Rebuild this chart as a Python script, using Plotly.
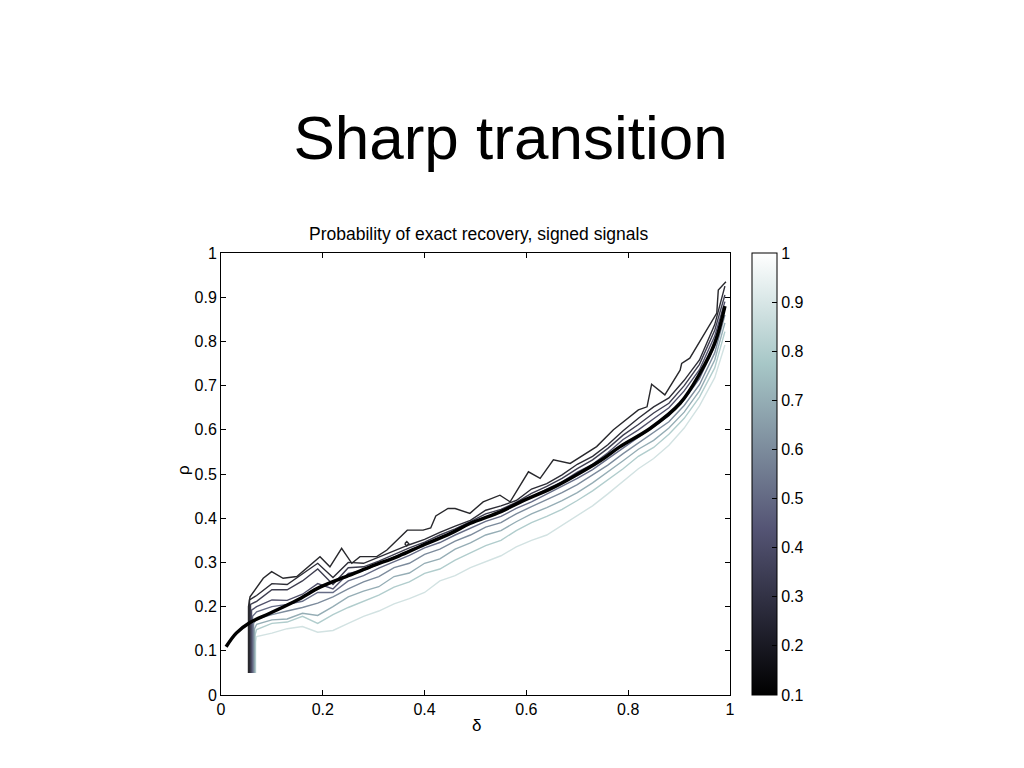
import plotly.graph_objects as go

# ---------------- data ----------------
# theoretical phase-transition curve (thick black)
curve_delta = [0.01, 0.03, 0.057, 0.096, 0.15, 0.1945, 0.25, 0.293, 0.35, 0.391, 0.45,
               0.489, 0.55, 0.587, 0.65, 0.686, 0.745, 0.784, 0.843, 0.902, 0.941, 0.97, 0.99]
curve_rho = [0.109, 0.14, 0.164, 0.185, 0.215, 0.244, 0.27, 0.29, 0.315, 0.336, 0.365,
             0.388, 0.415, 0.436, 0.468, 0.49, 0.53, 0.562, 0.603, 0.66, 0.728, 0.796, 0.88]

# contour level 0.1 (darkest, traced individually)
delta_c10 = [0.054, 0.054, 0.057, 0.083, 0.0995, 0.122, 0.149, 0.1945, 0.214, 0.237, 0.257,
             0.273, 0.306, 0.326, 0.366, 0.397, 0.412, 0.422, 0.446, 0.46, 0.489, 0.515,
             0.548, 0.568, 0.604, 0.627, 0.653, 0.686, 0.738, 0.771, 0.82, 0.837, 0.846,
             0.872, 0.902, 0.905, 0.921, 0.941, 0.974, 0.977, 0.992]
rho_c10 = [0.05, 0.2, 0.222, 0.264, 0.279, 0.264, 0.268, 0.313, 0.29, 0.332, 0.298,
           0.313, 0.313, 0.328, 0.373, 0.373, 0.378, 0.405, 0.422, 0.422, 0.411, 0.437,
           0.452, 0.437, 0.505, 0.49, 0.532, 0.524, 0.562, 0.60, 0.645, 0.652, 0.703,
           0.679, 0.735, 0.75, 0.762, 0.80, 0.864, 0.916, 0.935]
# small isolated loop of level 0.1
loop_delta = [0.361, 0.365, 0.369, 0.365, 0.361]
loop_rho = [0.342, 0.347, 0.342, 0.337, 0.342]

# shared delta grid for contour levels 0.2 ... 0.9
delta_grid = [0.07, 0.10, 0.13, 0.16, 0.19, 0.22, 0.25, 0.28, 0.31, 0.34, 0.37, 0.40,
              0.43, 0.46, 0.49, 0.52, 0.55, 0.58, 0.61, 0.64, 0.67, 0.70, 0.73, 0.76,
              0.79, 0.82, 0.85, 0.88, 0.91, 0.94, 0.97, 0.99]

levels = [0.2, 0.3, 0.4, 0.5, 0.6, 0.7, 0.8, 0.9]
left_edge_delta = [0.056, 0.058, 0.060, 0.062, 0.064, 0.066, 0.067, 0.068]
left_corner_rho = [0.215, 0.205, 0.192, 0.178, 0.162, 0.150, 0.136, 0.120]
left_bottom_rho = 0.05

rho_c20 = [0.225, 0.252, 0.250, 0.273, 0.298, 0.266, 0.300, 0.298, 0.312, 0.325, 0.340, 0.352,
           0.368, 0.382, 0.395, 0.418, 0.428, 0.440, 0.466, 0.478, 0.498, 0.522, 0.540, 0.566,
           0.598, 0.626, 0.652, 0.672, 0.712, 0.758, 0.838, 0.925]
rho_c30 = [0.212, 0.238, 0.238, 0.258, 0.285, 0.250, 0.288, 0.290, 0.303, 0.318, 0.333, 0.346,
           0.362, 0.376, 0.392, 0.410, 0.420, 0.436, 0.456, 0.472, 0.490, 0.512, 0.532, 0.558,
           0.588, 0.612, 0.638, 0.660, 0.700, 0.748, 0.825, 0.905]
rho_c40 = [0.200, 0.215, 0.214, 0.228, 0.252, 0.240, 0.275, 0.282, 0.296, 0.312, 0.326, 0.342,
           0.356, 0.370, 0.388, 0.402, 0.414, 0.432, 0.448, 0.466, 0.482, 0.504, 0.522, 0.548,
           0.578, 0.600, 0.625, 0.650, 0.688, 0.736, 0.812, 0.890]
rho_c50 = [0.188, 0.200, 0.205, 0.212, 0.232, 0.232, 0.258, 0.270, 0.287, 0.302, 0.316, 0.333,
           0.345, 0.362, 0.378, 0.393, 0.404, 0.422, 0.437, 0.455, 0.472, 0.490, 0.510, 0.534,
           0.560, 0.584, 0.606, 0.632, 0.668, 0.716, 0.790, 0.875]
rho_c60 = [0.172, 0.182, 0.190, 0.198, 0.208, 0.222, 0.240, 0.256, 0.268, 0.288, 0.298, 0.318,
           0.330, 0.348, 0.362, 0.380, 0.390, 0.410, 0.426, 0.442, 0.458, 0.476, 0.498, 0.520,
           0.546, 0.570, 0.592, 0.618, 0.655, 0.702, 0.774, 0.860]
rho_c70 = [0.160, 0.170, 0.172, 0.185, 0.180, 0.200, 0.222, 0.235, 0.245, 0.268, 0.276, 0.298,
           0.308, 0.330, 0.344, 0.362, 0.372, 0.392, 0.410, 0.424, 0.440, 0.458, 0.480, 0.504,
           0.530, 0.556, 0.576, 0.604, 0.640, 0.688, 0.758, 0.842]
rho_c80 = [0.148, 0.162, 0.165, 0.178, 0.162, 0.182, 0.198, 0.212, 0.226, 0.244, 0.256, 0.275,
           0.285, 0.305, 0.322, 0.338, 0.350, 0.372, 0.390, 0.404, 0.420, 0.440, 0.462, 0.486,
           0.512, 0.540, 0.560, 0.590, 0.626, 0.674, 0.740, 0.822]
rho_c90 = [0.132, 0.140, 0.150, 0.155, 0.142, 0.146, 0.162, 0.178, 0.190, 0.206, 0.218, 0.232,
           0.258, 0.270, 0.288, 0.302, 0.315, 0.335, 0.350, 0.362, 0.384, 0.405, 0.428, 0.455,
           0.484, 0.512, 0.535, 0.565, 0.604, 0.654, 0.718, 0.792]
rho_levels = [rho_c20, rho_c30, rho_c40, rho_c50, rho_c60, rho_c70, rho_c80, rho_c90]

x_ticks = [0, 0.2, 0.4, 0.6, 0.8, 1]
x_tick_text = ["0", "0.2", "0.4", "0.6", "0.8", "1"]
y_ticks = [0, 0.1, 0.2, 0.3, 0.4, 0.5, 0.6, 0.7, 0.8, 0.9, 1]
y_tick_text = ["0", "0.1", "0.2", "0.3", "0.4", "0.5", "0.6", "0.7", "0.8", "0.9", "1"]
cbar_ticks = [0.1, 0.2, 0.3, 0.4, 0.5, 0.6, 0.7, 0.8, 0.9, 1]
cbar_tick_text = ["0.1", "0.2", "0.3", "0.4", "0.5", "0.6", "0.7", "0.8", "0.9", "1"]

# ---------------- styles ----------------
bone_scale = [[0.0, "rgb(0,0,0)"], [0.375, "rgb(84,84,116)"],
              [0.75, "rgb(167,199,199)"], [1.0, "rgb(255,255,255)"]]
level_colors = {0.1: "rgb(40,40,44)", 0.2: "rgb(45,45,54)", 0.3: "rgb(62,62,80)",
                0.4: "rgb(80,80,106)", 0.5: "rgb(102,108,134)", 0.6: "rgb(124,139,156)",
                0.7: "rgb(149,173,181)", 0.8: "rgb(177,205,205)", 0.9: "rgb(210,226,226)"}
FONT = "Liberation Sans, Arial, Helvetica, sans-serif"
OFF = 8  # browser body margin

fig = go.Figure()

# lighter levels first so darker lie on top
for lvl, xe, yc, rr in reversed(list(zip(levels, left_edge_delta, left_corner_rho, rho_levels))):
    xs = [xe, xe] + delta_grid
    ys = [left_bottom_rho, yc] + rr
    fig.add_trace(go.Scatter(x=xs, y=ys, mode="lines",
                             line=dict(color=level_colors[lvl], width=1.4),
                             hoverinfo="skip", showlegend=False))

fig.add_trace(go.Scatter(x=delta_c10, y=rho_c10, mode="lines",
                         line=dict(color=level_colors[0.1], width=1.4),
                         hoverinfo="skip", showlegend=False))
fig.add_trace(go.Scatter(x=loop_delta, y=loop_rho, mode="lines",
                         line=dict(color=level_colors[0.1], width=1.4),
                         hoverinfo="skip", showlegend=False))

# theoretical curve
fig.add_trace(go.Scatter(x=curve_delta, y=curve_rho, mode="lines", line_shape="spline",
                         line=dict(color="black", width=3.5),
                         hoverinfo="skip", showlegend=False))

# colorbar holder
fig.add_trace(go.Scatter(
    x=[0.5], y=[0.5], mode="markers", hoverinfo="skip", showlegend=False,
    marker=dict(size=1, opacity=0, color=[0.5], colorscale=bone_scale, cmin=0.1, cmax=1,
                showscale=True,
                colorbar=dict(x=(752 - 221) / 509, xanchor="left", xpad=0, ypad=0,
                              y=0.5, yanchor="middle", len=1, lenmode="fraction",
                              thickness=25, thicknessmode="pixels",
                              outlinewidth=1, outlinecolor="black",
                              tickvals=cbar_ticks, ticktext=cbar_tick_text,
                              ticks="inside", ticklen=5, tickcolor="black",
                              tickfont=dict(family=FONT, size=16, color="black")))))

fig.update_xaxes(range=[0, 1], tickvals=x_ticks, ticktext=x_tick_text,
                 ticks="inside", ticklen=5, tickcolor="black", showline=True, linecolor="black",
                 linewidth=1, mirror="ticks", showgrid=False, zeroline=False,
                 tickfont=dict(family=FONT, size=16, color="black"))
fig.update_yaxes(range=[0, 1], tickvals=y_ticks, ticktext=y_tick_text,
                 ticks="inside", ticklen=5, tickcolor="black", showline=True, linecolor="black",
                 linewidth=1, mirror="ticks", showgrid=False, zeroline=False,
                 tickfont=dict(family=FONT, size=16, color="black"))

fig.update_layout(
    width=1024, height=768,
    margin=dict(l=221 - OFF, r=1024 - 730 + OFF, t=253 - OFF, b=768 - 695 + OFF),
    paper_bgcolor="white", plot_bgcolor="white",
    showlegend=False,
    title=dict(text="Sharp transition", x=(510.5 - OFF) / 1024, xanchor="center", xref="container",
               y=1 - (137 - OFF) / 768, yanchor="middle", yref="container",
               font=dict(family=FONT, size=62, color="black")),
    annotations=[
        dict(text="Probability of exact recovery, signed signals", xref="paper", yref="paper",
             x=(478 - 221) / 509, y=(695 - 234) / 442, xanchor="center", yanchor="middle",
             showarrow=False, font=dict(family=FONT, size=17.5, color="black")),
        dict(text="δ", xref="paper", yref="paper", x=(476 - 221) / 509, y=(695 - 725) / 442,
             xanchor="center", yanchor="middle", showarrow=False,
             font=dict(family=FONT, size=17, color="black")),
        dict(text="ρ", xref="paper", yref="paper", x=(183 - 221) / 509, y=(695 - 470) / 442,
             xanchor="center", yanchor="middle", showarrow=False, textangle=-90,
             font=dict(family=FONT, size=17, color="black")),
    ],
)

fig.write_html("out.html")
